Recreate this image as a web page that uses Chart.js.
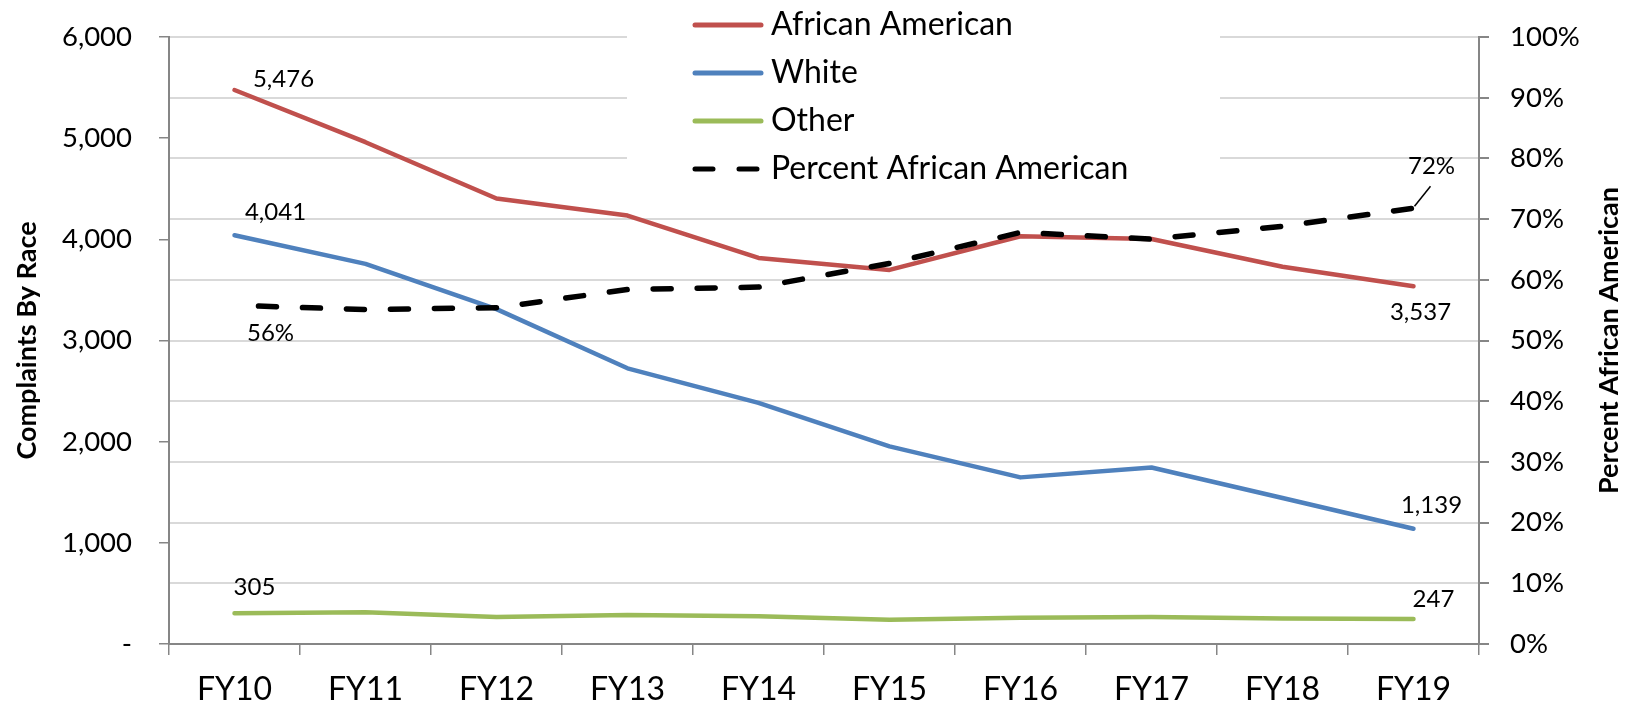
<!DOCTYPE html>
<html>
<head>
<meta charset="utf-8">
<script src="https://cdn.jsdelivr.net/npm/chart.js@4.4.1/dist/chart.umd.min.js"></script>
<style>
  html, body { margin: 0; padding: 0; background: #fff; }
  #wrap { width: 1629px; height: 704px; position: relative; }
</style>
</head>
<body>
<div id="wrap"><canvas id="myChart"></canvas></div>
<script>
//Fiscal years on the x axis
const years = ["FY10", "FY11", "FY12", "FY13", "FY14", "FY15", "FY16", "FY17", "FY18", "FY19"];
//Complaints by race, left axis
const africanAmerican = [5476, 4960, 4404, 4235, 3816, 3698, 4031, 4004, 3729, 3537];
const white = [4041, 3757, 3310, 2725, 2384, 1953, 1647, 1745, 1443, 1139];
const other = [305, 314, 267, 286, 275, 240, 259, 267, 251, 247];
//Percent African American, right axis
const percentAA = [55.8, 55.1, 55.4, 58.4, 58.8, 62.7, 67.8, 66.7, 68.8, 71.8];

const FONT = "Lato, 'Open Sans', sans-serif";
const AXIS_GREY = "#868686";
const rightTitle = "Percent African American";

//Where the labels for the first and last points go, relative to the point
const labelOffsets = {
	0: {first: [49, -11], last: [7, 26]},
	1: {first: [41, -23], last: [18, -24]},
	2: {first: [20, -26], last: [20, -20]},
	3: {first: [36, 28], last: [18, -42], leader: true}
};

//Draws the value labels at the ends of each line
const endLabels = {
	id: "endLabels",
	afterDatasetsDraw(chart) {
		const ctx = chart.ctx;
		ctx.save();
		ctx.font = "24px " + FONT;
		ctx.fillStyle = "#000";
		ctx.textAlign = "center";
		ctx.textBaseline = "middle";
		chart.data.datasets.forEach((ds, i) => {
			const meta = chart.getDatasetMeta(i);
			const off = labelOffsets[i];
			const n = meta.data.length - 1;
			[[0, off.first], [n, off.last]].forEach(([idx, o]) => {
				const pt = meta.data[idx];
				const v = ds.data[idx];
				const txt = ds.yAxisID === "y1" ? Math.round(v) + "%" : v.toLocaleString("en-US");
				ctx.fillText(txt, pt.x + o[0], pt.y + o[1]);
				if (off.leader && idx === n) {
					ctx.strokeStyle = "#000";
					ctx.lineWidth = 1.5;
					ctx.beginPath();
					ctx.moveTo(pt.x + 1, pt.y - 2);
					ctx.lineTo(pt.x + 17, pt.y - 22);
					ctx.stroke();
				}
			});
		});
		ctx.restore();
	}
};

//Vertical legend sitting on top of the plot, with a white box behind it
//Also the right axis title, which reads bottom to top like the left one
const boxLegend = {
	id: "boxLegend",
	afterDraw(chart) {
		const ctx = chart.ctx;
		ctx.save();
		ctx.fillStyle = "#fff";
		ctx.fillRect(627, 0, 593, 194);
		ctx.font = "32px " + FONT;
		ctx.textBaseline = "middle";
		ctx.textAlign = "left";
		chart.data.datasets.forEach((ds, i) => {
			const y = 25 + i * 48;
			ctx.strokeStyle = ds.borderColor;
			ctx.lineWidth = 5;
			ctx.lineCap = "round";
			ctx.setLineDash(ds.borderDash ? [18, 26] : []);
			ctx.beginPath();
			ctx.moveTo(695, y);
			ctx.lineTo(761, y);
			ctx.stroke();
			ctx.setLineDash([]);
			ctx.fillStyle = "#000";
			ctx.fillText(ds.label, 771, y);
		});
		const area = chart.chartArea;
		ctx.translate(1609, (area.top + area.bottom) / 2);
		ctx.rotate(-Math.PI / 2);
		ctx.textAlign = "center";
		ctx.font = "bold 27px " + FONT;
		ctx.fillText(rightTitle, 0, 0);
		ctx.restore();
	}
};

//The big tick padding would otherwise push the plot down, so keep the scale padding small
const trimPadding = (s) => { s.paddingTop = 12; s.paddingBottom = 12; };

const ctx = document.getElementById("myChart").getContext("2d");
const myChart = new Chart(ctx, {
	type: "line",
	data: {
		labels: years,
		datasets: [
			{label: "African American", data: africanAmerican, borderColor: "#C0504D", yAxisID: "y", order: 1},
			{label: "White", data: white, borderColor: "#4F81BD", yAxisID: "y", order: 2},
			{label: "Other", data: other, borderColor: "#9BBB59", yAxisID: "y", order: 3},
			{label: "Percent African American", data: percentAA, borderColor: "#000000", borderDash: [18, 26], borderDashOffset: 20, borderWidth: 5.5, borderCapStyle: "round", yAxisID: "y1", order: 0}
		]
	},
	options: {
		responsive: true,
		maintainAspectRatio: false,
		animation: false,
		layout: {padding: {top: 37, left: 0, right: 0, bottom: 0}},
		elements: {
			line: {borderWidth: 4.5, tension: 0, borderCapStyle: "round", borderJoinStyle: "round", fill: false},
			point: {radius: 0, hoverRadius: 0}
		},
		plugins: {
			legend: {display: false},
			tooltip: {enabled: false}
		},
		scales: {
			x: {
				offset: true,
				grid: {offset: true, drawOnChartArea: false, drawTicks: true, tickLength: 11, color: AXIS_GREY, lineWidth: 1.5},
				border: {display: true, color: AXIS_GREY, width: 2},
				ticks: {font: {family: FONT, size: 32}, color: "#000", padding: 15, maxRotation: 0, autoSkip: false},
				afterFit: (s) => { s.height = 60; }
			},
			y: {
				position: "left",
				min: 0,
				max: 6000,
				ticks: {
					stepSize: 1000,
					font: {family: FONT, size: 27.5},
					color: "#000",
					padding: 27,
					callback: (v) => v === 0 ? "-" : v.toLocaleString("en-US")
				},
				grid: {drawOnChartArea: false, drawTicks: true, tickLength: 10, color: AXIS_GREY, lineWidth: 1.5},
				border: {display: true, color: AXIS_GREY, width: 2},
				title: {display: true, text: "Complaints By Race", color: "#000", font: {family: FONT, size: 27, weight: "bold"}, padding: {top: 11, bottom: 0}},
				afterFit: (s) => { s.width = 169; trimPadding(s); }
			},
			y1: {
				position: "right",
				min: 0,
				max: 100,
				ticks: {
					stepSize: 10,
					font: {family: FONT, size: 27.5},
					color: "#000",
					padding: 21,
					callback: (v) => v + "%"
				},
				grid: {
					drawOnChartArea: true,
					drawTicks: true,
					tickLength: 10,
					lineWidth: 2,
					color: (c) => c.tick && c.tick.value === 0 ? AXIS_GREY : "#D9D9D9",
					tickColor: AXIS_GREY
				},
				border: {display: true, color: AXIS_GREY, width: 2},
				afterFit: (s) => { s.width = 150; trimPadding(s); }
			}
		}
	},
	plugins: [endLabels, boxLegend]
});
</script>
</body>
</html>
